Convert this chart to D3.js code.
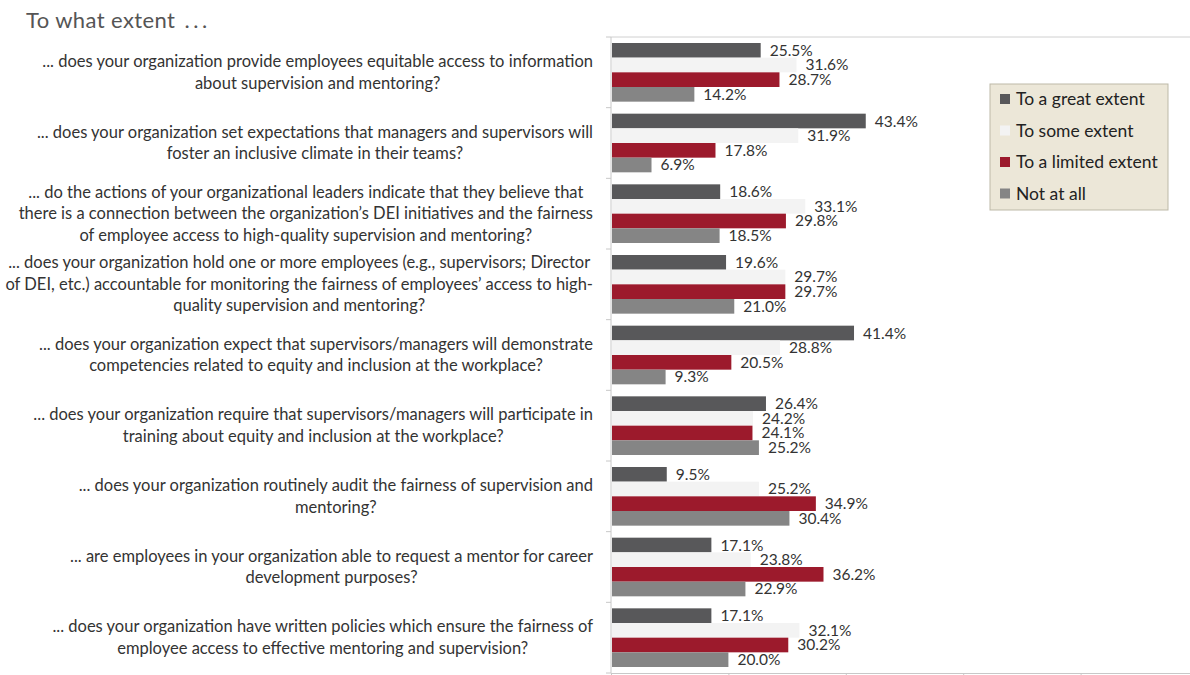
<!DOCTYPE html>
<html>
<head>
<meta charset="utf-8">
<script src="https://cdn.jsdelivr.net/npm/d3@7"></script>
<style>
  body { margin: 0; background: #fff; }
  text { font-family: Lato, "Noto Sans", sans-serif; }
</style>
</head>
<body>
<svg id="chart" width="1190" height="675"></svg>
<script>
// survey items, one array of lines per question
var questions = [
  ["... does your organization provide employees equitable access to information", "about supervision and mentoring?"],
  ["... does your organization set expectations that managers and supervisors will", "foster an inclusive climate in their teams?"],
  ["... do the actions of your organizational leaders indicate that they believe that", "there is a connection between the organization\u2019s DEI initiatives and the fairness", "of employee access to high-quality supervision and mentoring?"],
  ["... does your organization hold one or more employees (e.g., supervisors; Director", "of DEI, etc.) accountable for monitoring the fairness of employees\u2019 access to high-", "quality supervision and mentoring?"],
  ["... does your organization expect that supervisors/managers will demonstrate", "competencies related to equity and inclusion at the workplace?"],
  ["... does your organization require that supervisors/managers will participate in", "training about equity and inclusion at the workplace?"],
  ["... does your organization routinely audit the fairness of supervision and", "mentoring?"],
  ["... are employees in your organization able to request a mentor for career", "development purposes?"],
  ["... does your organization have written policies which ensure the fairness of", "employee access to effective mentoring and supervision?"]
]

var series = ["To a great extent", "To some extent", "To a limited extent", "Not at all"]
var colors = ["#58585a", "#f3f3f3", "#9c1a2c", "#858585"]

var greatExtent   = [25.5, 43.4, 18.6, 19.6, 41.4, 26.4, 9.5, 17.1, 17.1]
var someExtent    = [31.6, 31.9, 33.1, 29.7, 28.8, 24.2, 25.2, 23.8, 32.1]
var limitedExtent = [28.7, 17.8, 29.8, 29.7, 20.5, 24.1, 34.9, 36.2, 30.2]
var notAtAll      = [14.2, 6.9, 18.5, 21.0, 9.3, 25.2, 30.4, 22.9, 20.0]
var xTicks = [0, 20, 40, 60, 80]

var values = [greatExtent, someExtent, limitedExtent, notAtAll]

var svg = d3.select("#chart")

let plot_left = 611, plot_top = 37, plot_bottom = 673

var x = d3.scaleLinear().domain([0, 100]).range([plot_left, plot_left + 587])
var y = d3.scaleBand().domain(d3.range(questions.length)).range([plot_top, plot_bottom]).paddingInner(0.17).paddingOuter(0.085)
var y0 = d3.scaleBand().domain(d3.range(series.length)).range([0, y.bandwidth()])
var step = (plot_bottom - plot_top) / questions.length

svg.append("text")
    .attr("x", 26).attr("y", 28)
    .attr("font-size", 22)
    .attr("fill", "#555")
    .attr("letter-spacing", 0.4)
    .text("To what extent \u2009.\u2009.\u2009.")

// frame lines
svg.append("line")
    .attr("x1", plot_left).attr("x2", 1190).attr("y1", plot_top).attr("y2", plot_top)
    .attr("stroke", "#d0d0d0")

// bottom axis
var xAxis = svg.append("g")
    .attr("transform", "translate(0," + plot_bottom + ")")
    .call(d3.axisBottom(x).tickValues(xTicks).tickSize(4).tickFormat(""))
xAxis.select(".domain").attr("stroke", "#c8c8c8")
xAxis.selectAll(".tick line").attr("stroke", "#c8c8c8")

// left axis with ticks between groups
svg.append("line")
    .attr("x1", plot_left).attr("x2", plot_left).attr("y1", plot_top).attr("y2", plot_bottom)
    .attr("stroke", "#c8c8c8")
svg.selectAll(".cat_tick")
    .data(d3.range(questions.length + 1))
    .enter().append("line")
    .attr("class", "cat_tick")
    .attr("x1", plot_left - 5).attr("x2", plot_left)
    .attr("y1", (d) => plot_top + d * step).attr("y2", (d) => plot_top + d * step)
    .attr("stroke", "#c8c8c8")

var groups = svg.selectAll(".group")
    .data(questions)
    .enter().append("g")
    .attr("class", "group")
    .attr("transform", (d, i) => "translate(0," + y(i) + ")")

groups.each(function (q, i) {
    var g = d3.select(this)
    var rows = values.map((v, s) => ({ s: s, v: v[i] }))
    g.selectAll("rect")
        .data(rows)
        .enter().append("rect")
        .attr("x", plot_left + 1)
        .attr("y", (d) => y0(d.s))
        .attr("width", (d) => x(d.v) - plot_left - 1)
        .attr("height", y0.bandwidth())
        .attr("fill", (d) => colors[d.s])
    g.selectAll(".val")
        .data(rows)
        .enter().append("text")
        .attr("class", "val")
        .attr("x", (d) => x(d.v) + 9)
        .attr("y", (d) => y0(d.s) + y0.bandwidth() / 2 + 5.5)
        .attr("font-size", 15.5)
        .attr("fill", "#333")
        .text((d) => d.v.toFixed(1) + "%")
})

// category labels, centered block pushed against the axis
var labelRight = 593
svg.selectAll(".cat")
    .data(questions)
    .enter().append("text")
    .attr("class", "cat")
    .attr("font-size", 16.5)
    .attr("fill", "#333")
    .attr("text-anchor", "middle")
    .each(function (lines, i) {
        var t = d3.select(this)
        var cy = plot_top + (i + 0.5) * step
        var lh = 21.5
        lines.forEach((line, k) => {
            t.append("tspan")
                .attr("y", cy + (k - (lines.length - 1) / 2) * lh + 5.5)
                .text(line)
        })
        var w = d3.max(t.selectAll("tspan").nodes(), (n) => n.getComputedTextLength())
        t.selectAll("tspan").attr("x", labelRight - w / 2)
    })

// legend
var legend = svg.append("g").attr("transform", "translate(990,84)")
legend.append("rect")
    .attr("width", 178).attr("height", 126)
    .attr("fill", "#ece7d8")
    .attr("stroke", "#bdb9a8")
var items = legend.selectAll(".item")
    .data(series)
    .enter().append("g")
    .attr("class", "item")
    .attr("transform", (d, i) => "translate(10," + (15 + i * 31.5) + ")")
items.append("rect")
    .attr("y", -5).attr("width", 10).attr("height", 10)
    .attr("fill", (d, i) => colors[i])
items.append("text")
    .attr("x", 16).attr("y", 6)
    .attr("font-size", 17.5)
    .attr("fill", "#222")
    .text((d) => d)
</script>
</body>
</html>
